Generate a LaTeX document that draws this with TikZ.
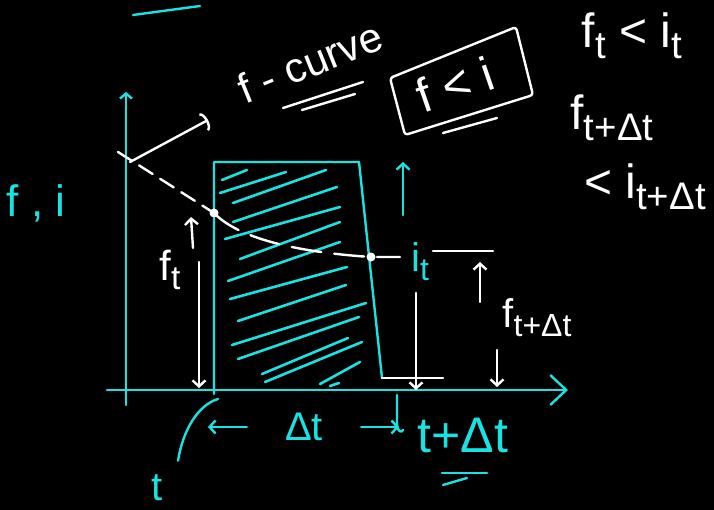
\documentclass[tikz,border=0pt]{standalone}
\usepackage{fontspec}
\setmainfont{Liberation Sans}
\usepackage{graphicx}
\usepackage{xcolor}
\usepackage{tikz}
\usetikzlibrary{arrows.meta,calc}
\definecolor{chalkcyan}{RGB}{24,226,226}
\newcommand\handfont[1]{\fontsize{#1}{#1}\selectfont}
\newcommand\lowsub[1]{\raisebox{-0.22em}{\scalebox{0.8}{#1}}}

\begin{document}
\begin{tikzpicture}[
    x=1pt,y=-1pt,line cap=round,line join=round,
    chalk/.style={draw=white,line width=2.4pt},
    ink/.style={draw=chalkcyan,line width=2.4pt},
    hatch/.style={draw=chalkcyan,line width=2.6pt},
    barb/.style={-{Straight Barb[length=6pt,width=13pt]}},
    word/.style={inner sep=0pt,text=white},
    cyword/.style={inner sep=0pt,text=chalkcyan}
]
\fill[black] (0,0) rectangle (714,510);

\draw[ink] (133,15) -- (200,6);

\draw[ink,-{Straight Barb[length=5pt,width=12pt]}] (126,405) -- (126,92);
\draw[ink,-{Straight Barb[length=16pt,width=30pt]}] (107,390) -- (568,390);

\draw[ink] (214,394) -- (214,162) -- (359,162) -- (382,378);
\draw[chalk] (382,378) -- (443,378);
\foreach \xa/\ya/\xb/\yb in {222/180/247/170,220/193/286/172,233/203/326/170,
    233/222/337/187,225/239/340/207,240/259/340/222,228/281/340/242,
    230/299/347/267,238/321/346/285,232/345/366/303,238/359/359/317,
    262/374/348/338,265/382/362/342,320/384/360/362,330/386/339/383} {
  \draw[hatch] (\xa,\ya) -- (\xb,\yb);
}

\coordinate (ftpt) at (214,213);
\coordinate (fdtpt) at (371,257);
\draw[chalk,dash pattern=on 16pt off 9pt] (118,152) -- (ftpt);
\draw[chalk,dash pattern=on 30pt off 13pt] (ftpt) .. controls (238,238) and (295,252)
  .. (fdtpt) -- (400,257);
\draw[chalk] (433,251) -- (493,251);
\fill[white] (ftpt) circle (4.5);
\fill[white] (fdtpt) circle (4.5);

\node[word,rotate=22,font=\handfont{42}] (fcurve) at (310,62) {f - curve};
\coordinate (curvept) at (130,162);
\draw[chalk,-{Arc Barb[length=5pt,width=20pt]}] (curvept) -- (208,120);
\draw[chalk] (283,108) -- (363,82);
\draw[chalk] (302,110) -- (355,94);

\draw[chalk,rounded corners=3pt] (390,78) -- (516,27) -- (533,95) -- (405,135) -- cycle;
\node[word,rotate=19,font=\handfont{48}] (fless) at (455,84) {f < i};
\draw[chalk] (443,133) -- (497,118);

\node[word,font=\handfont{48}] (ineqa) at (632,36) {f\lowsub{t} < i\lowsub{t}};
\node[word,font=\handfont{48}] (ineqb) at (612,118) {f\lowsub{t+Δt}};
\node[word,font=\handfont{48}] (ineqc) at (645,187) {< i\lowsub{t+Δt}};

\node[cyword,font=\handfont{44}] (fi) at (36,203) {f , i};

\draw[chalk,barb] (193,248) -- (191,217);
\draw[chalk,barb] (199,262) -- (199,388);
\node[word,font=\handfont{42}] (ft) at (170,270) {f\lowsub{t}};

\draw[ink,barb] (403,215) -- (403,162);
\node[cyword,font=\handfont{40}] (it) at (420,262) {i\lowsub{t}};
\draw[chalk,barb] (416,293) -- (416,390);

\draw[chalk,barb] (480,302) -- (480,262);
\draw[chalk,barb] (497,350) -- (497,387);
\node[word,font=\handfont{40}] (fdt) at (537,318) {f\lowsub{t+Δt}};

\node[cyword,font=\handfont{40}] (tlab) at (157,488) {t};
\draw[ink] (tlab.north) ++(21,-14) .. controls (183,430) and (198,405) .. (218,399);
\node[cyword,font=\handfont{40}] (dt) at (304,427) {Δt};
\draw[ink,barb] ([xshift=-38pt]dt.west) -- ([xshift=-77pt]dt.west);
\draw[ink,barb] ([xshift=38pt]dt.east) -- ([xshift=76pt]dt.east);
\draw[ink] (397,395) -- (397,424) .. controls (397,432) and (402,433) .. (403,430);
\node[cyword,font=\handfont{50}] (tdt) at (463,435) {t+Δt};
\draw[ink] (442,473) -- (487,473);
\draw[ink] (443,485) -- (467,478);
\end{tikzpicture}
\end{document}
